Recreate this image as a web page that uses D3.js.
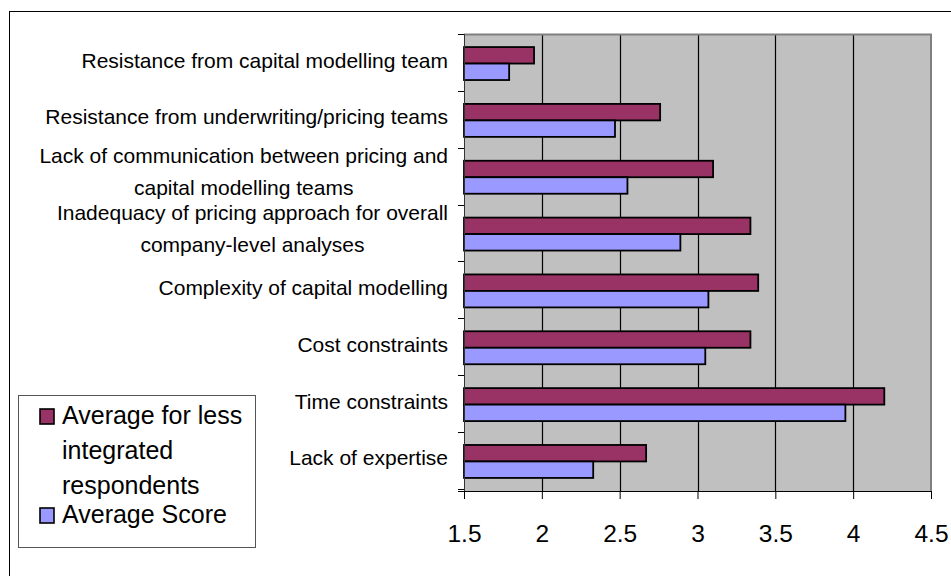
<!DOCTYPE html>
<html>
<head>
<meta charset="utf-8">
<script src="https://cdn.jsdelivr.net/npm/d3@7"></script>
<style>
  body { margin: 0; background: #fff; }
  svg { display: block; font-family: "Liberation Sans", Arial, sans-serif; }
  .cat-label { font-size: 21px; fill: #000; }
  .axis--x text { font-size: 24.5px; fill: #000; }
  .legend text { font-size: 25px; fill: #000; }
</style>
</head>
<body>
<div id="chart"></div>
<script>
// categories top to bottom, "\n" marks a line break in the label
const categories = [
  'Resistance from capital modelling team',
  'Resistance from underwriting/pricing teams',
  'Lack of communication between pricing and\ncapital modelling teams',
  'Inadequacy of pricing approach for overall\ncompany-level analyses',
  'Complexity of capital modelling',
  'Cost constraints',
  'Time constraints',
  'Lack of expertise'
];
const lessIntegrated = [1.95, 2.76, 3.10, 3.34, 3.39, 3.34, 4.20, 2.67];
const averageScore = [1.79, 2.47, 2.55, 2.89, 3.07, 3.05, 3.95, 2.33];
const seriesNames = ['Average for less\nintegrated\nrespondents', 'Average Score'];
const seriesColors = ['#993366', '#9999ff'];
const xTicks = [1.5, 2, 2.5, 3, 3.5, 4, 4.5];

const width = 951, height = 576;
const margin = {top: 34, right: 20, bottom: 85, left: 464};
const chartWidth = 931 - margin.left,
      chartHeight = 491 - margin.top;

const svg = d3.select('#chart').append('svg')
  .attr('width', width)
  .attr('height', height);

// outer chart frame
svg.append('rect')
  .attr('x', 9.5).attr('y', 11.5)
  .attr('width', width + 20).attr('height', height + 20)
  .attr('fill', 'none').attr('stroke', '#000').attr('stroke-width', 1);

const data = categories.map((c, i) => ({
  category: c,
  values: [lessIntegrated[i], averageScore[i]]
}));

const x = d3.scaleLinear().domain([1.5, 4.5]).range([0, chartWidth]);
const y = d3.scaleBand().domain(categories).range([0, chartHeight])
  .paddingInner(0.42).paddingOuter(0.23);
const ySub = d3.scaleBand().domain([0, 1]).range([0, y.bandwidth()]);
const step = y.step();

const chart = svg.append('g')
  .attr('transform', `translate(${margin.left}, ${margin.top})`);

// plot background
chart.append('rect')
  .attr('width', chartWidth).attr('height', chartHeight)
  .attr('fill', '#c0c0c0');

// vertical gridlines
chart.append('g')
  .selectAll('line')
  .data(xTicks.slice(1, -1))
  .enter().append('line')
  .attr('x1', d => Math.round(x(d)) + 0.5)
  .attr('x2', d => Math.round(x(d)) + 0.5)
  .attr('y1', 0).attr('y2', chartHeight)
  .attr('stroke', '#000').attr('stroke-width', 1.2);

// top and right border in grey
chart.append('path')
  .attr('d', `M0,0.5H${chartWidth}V${chartHeight}`)
  .attr('fill', 'none').attr('stroke', '#808080').attr('stroke-width', 2);

// bars
const groups = chart.append('g')
  .selectAll('g')
  .data(data)
  .enter().append('g')
  .attr('transform', d => `translate(0, ${y(d.category)})`);

groups.selectAll('rect')
  .data(d => d.values.map((v, j) => ({v, j})))
  .enter().append('rect')
  .attr('x', 0)
  .attr('y', d => ySub(d.j))
  .attr('width', d => x(d.v))
  .attr('height', ySub.bandwidth())
  .attr('fill', d => seriesColors[d.j])
  .attr('stroke', '#000')
  .attr('stroke-width', 1.8);

// y axis line and boundary ticks
chart.append('line')
  .attr('x1', 0.5).attr('x2', 0.5)
  .attr('y1', 0).attr('y2', chartHeight)
  .attr('stroke', '#333').attr('stroke-width', 1);

chart.append('g')
  .selectAll('line')
  .data(d3.range(categories.length + 1))
  .enter().append('line')
  .attr('x1', -6).attr('x2', 0)
  .attr('y1', i => Math.round(i * step) + 0.5)
  .attr('y2', i => Math.round(i * step) + 0.5)
  .attr('stroke', '#000');

// category labels
const labels = chart.append('g')
  .selectAll('text')
  .data(categories)
  .enter().append('text')
  .attr('class', 'cat-label')
  .attr('text-anchor', 'middle');

labels.each(function(d) {
  const lines = d.split('\n');
  const cy = y(d) + y.bandwidth() / 2 - 1;
  const t = d3.select(this);
  const offsets = lines.length > 1 ? [-13, 19] : [5];
  lines.forEach((line, k) => {
    t.append('tspan').attr('y', cy + offsets[k]).text(line);
  });
  // right-align the block, centre the lines within it
  let maxW = 0;
  t.selectAll('tspan').each(function() {
    maxW = Math.max(maxW, this.getComputedTextLength());
  });
  t.selectAll('tspan').attr('x', -16 - maxW / 2);
});

// x axis
const xAxis = d3.axisBottom(x)
  .tickValues(xTicks)
  .tickFormat(d3.format(''))
  .tickSize(8)
  .tickPadding(26);

const xg = chart.append('g')
  .attr('class', 'axis axis--x')
  .attr('transform', `translate(0, ${chartHeight})`)
  .call(xAxis);
xg.select('.domain').attr('stroke', '#000');
xg.selectAll('.tick line').attr('stroke', '#000');
xg.selectAll('text').attr('font-family', null).attr('font-size', null);

chart.append('line')
  .attr('x1', -6).attr('x2', chartWidth)
  .attr('y1', chartHeight + 0.5).attr('y2', chartHeight + 0.5)
  .attr('stroke', '#000');

// legend
const legend = svg.append('g').attr('class', 'legend');
legend.append('rect')
  .attr('x', 18.5).attr('y', 395.5)
  .attr('width', 237).attr('height', 152)
  .attr('fill', '#fff').attr('stroke', '#555').attr('stroke-width', 1);

const legendBaselines = [[424, 459, 494], [523]];
seriesNames.forEach((name, j) => {
  const base = legendBaselines[j];
  legend.append('rect')
    .attr('x', 40).attr('y', base[0] - 15)
    .attr('width', 14).attr('height', 15)
    .attr('fill', seriesColors[j])
    .attr('stroke', '#000').attr('stroke-width', 1.6);
  const t = legend.append('text');
  name.split('\n').forEach((line, k) => {
    t.append('tspan').attr('x', 62).attr('y', base[k]).text(line);
  });
});
</script>
</body>
</html>
